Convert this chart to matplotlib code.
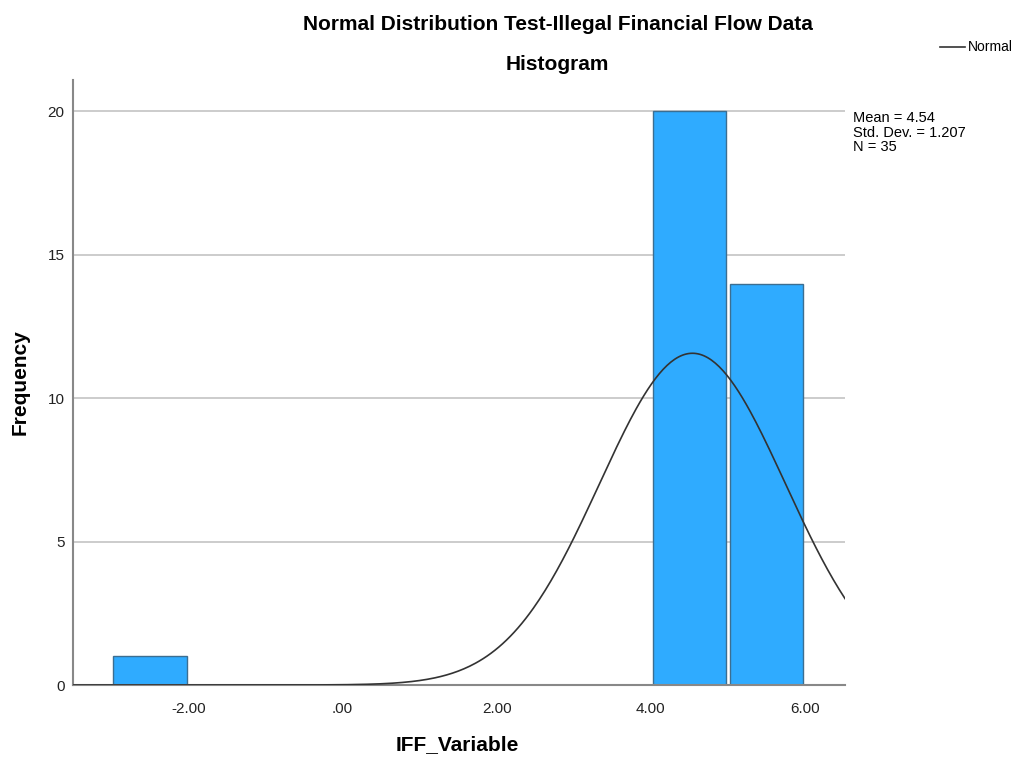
import numpy as np
import matplotlib.pyplot as plt

plt.rcParams['font.family'] = ['Liberation Sans', 'DejaVu Sans']

# histogram bins (left edges) and counts
bin_left = [-3, 4, 5]
counts = [1, 20, 14]
bin_width = 1.0

# summary statistics shown by SPSS
mean = 4.54
std = 1.207
n = 35

xticks = [-2, 0, 2, 4, 6]
xtick_labels = ["-2.00", ".00", "2.00", "4.00", "6.00"]
yticks = [0, 5, 10, 15, 20]

fig = plt.figure(figsize=(10.12, 7.57), dpi=100)
ax = fig.add_axes([0.0721, 0.0951, 0.7629, 0.7993])

# grid lines behind the bars
for y in yticks[1:]:
    ax.axhline(y, color='#c8c8c8', lw=1.3, zorder=0)

centers = [b + bin_width / 2 for b in bin_left]
ax.bar(centers, counts, width=0.955, color='#2fabff', edgecolor='#3c6e91',
       linewidth=1.0, zorder=2)

# fitted normal curve
xs = np.linspace(-3.5, 6.52, 400)
ys = n * bin_width * np.exp(-0.5 * ((xs - mean) / std) ** 2) / (std * np.sqrt(2 * np.pi))
ax.plot(xs, ys, color='#333333', lw=1.2, zorder=3)

ax.set_xlim(-3.5, 6.52)
ax.set_ylim(0, 21.1)
ax.set_xticks(xticks)
ax.set_xticklabels(xtick_labels)
ax.set_yticks(yticks)
ax.tick_params(length=0, labelsize=11, colors='#222222', pad=12)
ax.tick_params(axis='y', pad=6)

for s in ['top', 'right']:
    ax.spines[s].set_visible(False)
for s in ['left', 'bottom']:
    ax.spines[s].set_color('#888888')
    ax.spines[s].set_linewidth(1.5)

fig.text(0.452, 0.016, "IFF_Variable", ha='center', va='center',
         fontsize=15, fontweight='bold')
fig.text(0.020, 0.495, "Frequency", ha='center', va='center', rotation=90,
         fontsize=15, fontweight='bold')

fig.text(0.551, 0.968, "Normal Distribution Test-Illegal Financial Flow Data",
         ha='center', va='center', fontsize=15, fontweight='bold')
fig.text(0.551, 0.915, "Histogram", ha='center', va='center',
         fontsize=15, fontweight='bold')

# legend for the normal curve
fig.add_artist(plt.Line2D([0.929, 0.954], [0.938, 0.938], color='#333333', lw=1.2))
fig.text(0.956, 0.938, "Normal", ha='left', va='center', fontsize=10)

fig.text(0.843, 0.853, "Mean = %.2f\nStd. Dev. = %.3f\nN = %d" % (mean, std, n),
         ha='left', va='top', fontsize=10.5, linespacing=1.05)

fig.savefig("out.png", dpi=100)
